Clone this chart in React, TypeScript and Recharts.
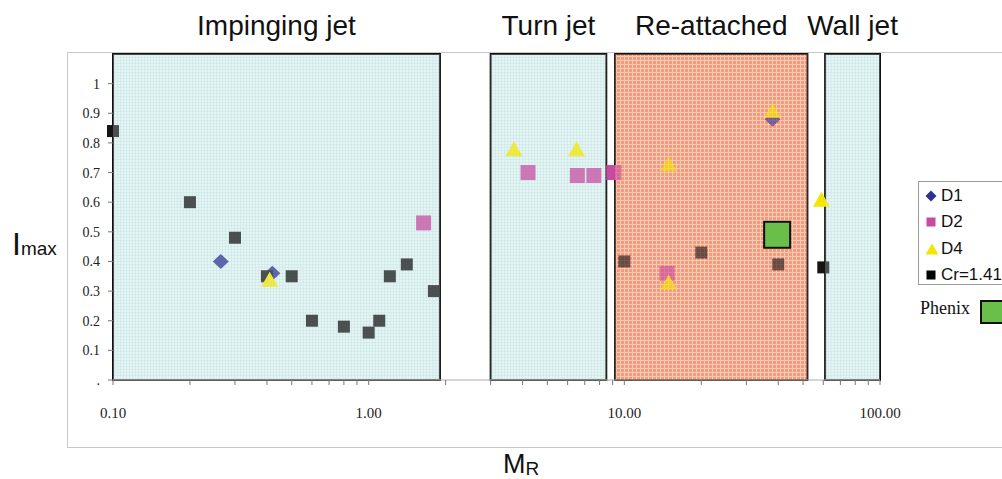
import React from 'react';
import { ScatterChart, Scatter, XAxis, YAxis, ReferenceArea, Legend } from 'recharts';

// ---------- data ----------
const D1 = [
  { x: 0.264, y: 0.4 },
  { x: 0.42, y: 0.36 },
  { x: 38, y: 0.88 },
];
const D2 = [
  { x: 1.64, y: 0.53 },
  { x: 4.2, y: 0.7 },
  { x: 6.55, y: 0.69 },
  { x: 7.6, y: 0.69 },
  { x: 9.1, y: 0.7 },
  { x: 14.7, y: 0.36 },
];
const D4 = [
  { x: 0.41, y: 0.34 },
  { x: 3.7, y: 0.78 },
  { x: 6.5, y: 0.78 },
  { x: 14.9, y: 0.73 },
  { x: 14.9, y: 0.33 },
  { x: 38, y: 0.91 },
  { x: 59, y: 0.61 },
];
const CR141 = [
  { x: 0.1, y: 0.84 },
  { x: 0.2, y: 0.6 },
  { x: 0.3, y: 0.48 },
  { x: 0.4, y: 0.35 },
  { x: 0.5, y: 0.35 },
  { x: 0.6, y: 0.2 },
  { x: 0.8, y: 0.18 },
  { x: 1.0, y: 0.16 },
  { x: 1.1, y: 0.2 },
  { x: 1.21, y: 0.35 },
  { x: 1.41, y: 0.39 },
  { x: 1.8, y: 0.3 },
  { x: 10, y: 0.4 },
  { x: 20, y: 0.43 },
  { x: 40, y: 0.39 },
  { x: 60, y: 0.38 },
];
const PHENIX = [{ x: 39.6, y: 0.49 }];

const REGIONS = [
  { name: 'Impinging jet', x1: 0.1, x2: 1.9, kind: 'blue' },
  { name: 'Turn jet', x1: 3.0, x2: 8.5, kind: 'blue' },
  { name: 'Re-attached', x1: 9.2, x2: 52, kind: 'salmon' },
  { name: 'Wall jet', x1: 61, x2: 100, kind: 'blue' },
];
const REGION_TOP = 1.1;

const X_TICKS = [
  0.1, 0.2, 0.3, 0.4, 0.5, 0.6, 0.7, 0.8, 0.9,
  1, 2, 3, 4, 5, 6, 7, 8, 9,
  10, 20, 30, 40, 50, 60, 70, 80, 90, 100,
];
const X_LABELED = [0.1, 1, 10, 100];
const Y_TICKS = [0, 0.1, 0.2, 0.3, 0.4, 0.5, 0.6, 0.7, 0.8, 0.9, 1];
const LEGEND_ORDER = ['D1', 'D2', 'D4', 'Cr=1.41'];

// ---------- styles ----------
const C_D1 = '#2e3192';
const C_D2 = '#c64a9f';
const C_D4 = '#f3e600';
const C_CR = '#151515';
const C_PHENIX = '#6abf4a';
const SANS = '"Liberation Sans", Arial, sans-serif';
const SERIF = '"Liberation Serif", "Times New Roman", serif';

const squareShape = (size: number, fill: string, stroke = 'none', sw = 0) => (p: any) => (
  <rect x={p.cx - size / 2} y={p.cy - size / 2} width={size} height={size} fill={fill} stroke={stroke} strokeWidth={sw} />
);
const diamondShape = (w: number, h: number, fill: string) => (p: any) => (
  <polygon
    points={`${p.cx},${p.cy - h / 2} ${p.cx + w / 2},${p.cy} ${p.cx},${p.cy + h / 2} ${p.cx - w / 2},${p.cy}`}
    fill={fill}
  />
);
const triangleShape = (w: number, h: number, fill: string) => (p: any) => (
  <polygon
    points={`${p.cx},${p.cy - h / 2} ${p.cx + w / 2},${p.cy + h / 2} ${p.cx - w / 2},${p.cy + h / 2}`}
    fill={fill}
  />
);

const XTick = (props: any) => {
  const { x, y, payload } = props;
  const v = payload.value;
  if (!X_LABELED.includes(v)) return null;
  return (
    <text x={x} y={y + 31} textAnchor="middle" fontFamily={SERIF} fontSize={15} fill="#222">
      {Number(v).toFixed(2)}
    </text>
  );
};

const yFmt = (v: number) => (v === 0 ? '.' : String(v));

const YLabel = () => (
  <text x={12} y={255} fontFamily={SANS} fill="#111">
    <tspan fontSize={32}>I</tspan>
    <tspan fontSize={19}>max</tspan>
  </text>
);
const XLabel = () => (
  <text x={503} y={473} fontFamily={SANS} fill="#111">
    <tspan fontSize={27}>M</tspan>
    <tspan fontSize={19} dy={2}>R</tspan>
  </text>
);

const legendMarker = (name: string) => {
  if (name === 'D1')
    return (
      <svg width={12} height={12}>
        <polygon points="6,0.5 11.5,6 6,11.5 0.5,6" fill={C_D1} />
      </svg>
    );
  if (name === 'D2')
    return (
      <svg width={12} height={12}>
        <rect x={1.5} y={1.5} width={9} height={9} fill={C_D2} />
      </svg>
    );
  if (name === 'D4')
    return (
      <svg width={14} height={12}>
        <polygon points="7,0.5 13.5,11.5 0.5,11.5" fill={C_D4} />
      </svg>
    );
  return (
    <svg width={12} height={12}>
      <rect x={1.5} y={1.5} width={9} height={9} fill="#000" />
    </svg>
  );
};

const LegendContent = (props: any) => {
  const names: string[] = (props.payload || []).map((p: any) => p.value);
  const items = LEGEND_ORDER.filter((n) => names.includes(n));
  return (
    <div style={{ position: 'relative', width: 130, height: 160, fontFamily: SANS }}>
      <div
        style={{
          position: 'absolute',
          left: 0,
          top: 2,
          width: 120,
          height: 104,
          border: '1px solid #9a9a9a',
          background: '#fff',
          boxSizing: 'border-box',
        }}
      >
        {items.map((n, i) => (
          <div
            key={n}
            style={{
              position: 'absolute',
              left: 6,
              top: 14 + i * 26.3 - 11,
              height: 22,
              display: 'flex',
              alignItems: 'center',
              fontSize: 17,
              color: '#111',
              whiteSpace: 'nowrap',
            }}
          >
            <span style={{ display: 'inline-block', width: 16, lineHeight: 0 }}>{legendMarker(n)}</span>
            <span>{n}</span>
          </div>
        ))}
      </div>
      <div
        style={{
          position: 'absolute',
          left: 2,
          top: 119,
          fontFamily: SERIF,
          fontSize: 18,
          color: '#111',
          whiteSpace: 'nowrap',
        }}
      >
        Phenix
      </div>
      <div
        style={{
          position: 'absolute',
          left: 62,
          top: 121,
          width: 26,
          height: 24,
          background: C_PHENIX,
          border: '2px solid #111',
          boxSizing: 'border-box',
        }}
      />
    </div>
  );
};

export default function App() {
  return (
    <div
      style={{
        position: 'absolute',
        left: 0,
        top: 0,
        width: 1002,
        height: 479,
        overflow: 'hidden',
        background: '#fff',
      }}
    >
      <div
        style={{
          position: 'absolute',
          left: 67,
          top: 52,
          width: 1000,
          height: 396,
          border: '1.5px solid #c8c8c8',
          boxSizing: 'border-box',
        }}
      />
      <div style={{ position: 'absolute', left: 0, top: 0 }}>
        <ScatterChart width={1002} height={479} margin={{ top: 54, right: 122, bottom: 59, left: 53 }}>
          <defs>
            <pattern id="patBlue" width={3} height={3} patternUnits="userSpaceOnUse">
              <rect width={3} height={3} fill="#e7f4f4" />
              <rect width={3} height={1} fill="#d3ebeb" />
              <rect width={1} height={3} fill="#d3ebeb" />
            </pattern>
            <pattern id="patSalmon" width={4} height={4} patternUnits="userSpaceOnUse">
              <rect width={4} height={4} fill="#f69a7c" />
              <rect width={4} height={1} fill="#fcc9b5" />
              <rect width={1} height={4} fill="#fcc9b5" />
            </pattern>
          </defs>
          <XAxis
            type="number"
            dataKey="x"
            scale="log"
            domain={[0.1, 100]}
            ticks={X_TICKS}
            interval={0}
            tick={<XTick />}
            tickSize={5}
            tickLine={{ stroke: '#777' }}
            axisLine={{ stroke: '#aaa' }}
            height={40}
            label={<XLabel />}
          />
          <YAxis
            type="number"
            dataKey="y"
            domain={[0, 1.1]}
            ticks={Y_TICKS}
            interval={0}
            tickFormatter={yFmt}
            tick={{ fontFamily: SERIF, fontSize: 14, fill: '#222' }}
            tickSize={5}
            tickMargin={8}
            tickLine={{ stroke: '#777' }}
            axisLine={false}
            width={60}
            label={<YLabel />}
          />
          {REGIONS.map((r) => (
            <ReferenceArea
              key={'base-' + r.name}
              x1={r.x1}
              x2={r.x2}
              y1={0}
              y2={REGION_TOP}
              fill={r.kind === 'salmon' ? 'url(#patSalmon)' : 'url(#patBlue)'}
              fillOpacity={1}
              stroke="#111"
              strokeWidth={2}
              label={{
                value: r.name,
                position: 'top',
                offset: 19,
                fontSize: 28,
                fontFamily: SANS,
                fill: '#111',
              }}
            />
          ))}
          <Scatter name="D1" data={D1} fill={C_D1} legendType="diamond" shape={diamondShape(16, 15, C_D1)} isAnimationActive={false} />
          <Scatter name="D2" data={D2} fill={C_D2} legendType="square" shape={squareShape(15, C_D2)} isAnimationActive={false} />
          <Scatter name="Cr=1.41" data={CR141} fill={C_CR} legendType="square" shape={squareShape(12, C_CR)} isAnimationActive={false} />
          <Scatter name="D4" data={D4} fill={C_D4} legendType="triangle" shape={triangleShape(17, 15, C_D4)} isAnimationActive={false} />
          {REGIONS.map((r) => (
            <ReferenceArea
              key={'over-' + r.name}
              x1={r.x1}
              x2={r.x2}
              y1={0}
              y2={REGION_TOP}
              fill={r.kind === 'salmon' ? 'url(#patSalmon)' : 'url(#patBlue)'}
              fillOpacity={r.kind === 'salmon' ? 0.38 : 0.27}
              stroke="none"
              zIndex={650}
            />
          ))}
          <Scatter
            name="Phenix"
            data={PHENIX}
            fill={C_PHENIX}
            legendType="square"
            shape={squareShape(26, C_PHENIX, '#111', 2)}
            isAnimationActive={false}
            zIndex={700}
          />
          <Legend
            layout="vertical"
            align="center"
            verticalAlign="middle"
            wrapperStyle={{ left: 918, top: 179, width: 130, height: 160 }}
            content={<LegendContent />}
          />
        </ScatterChart>
      </div>
    </div>
  );
}
